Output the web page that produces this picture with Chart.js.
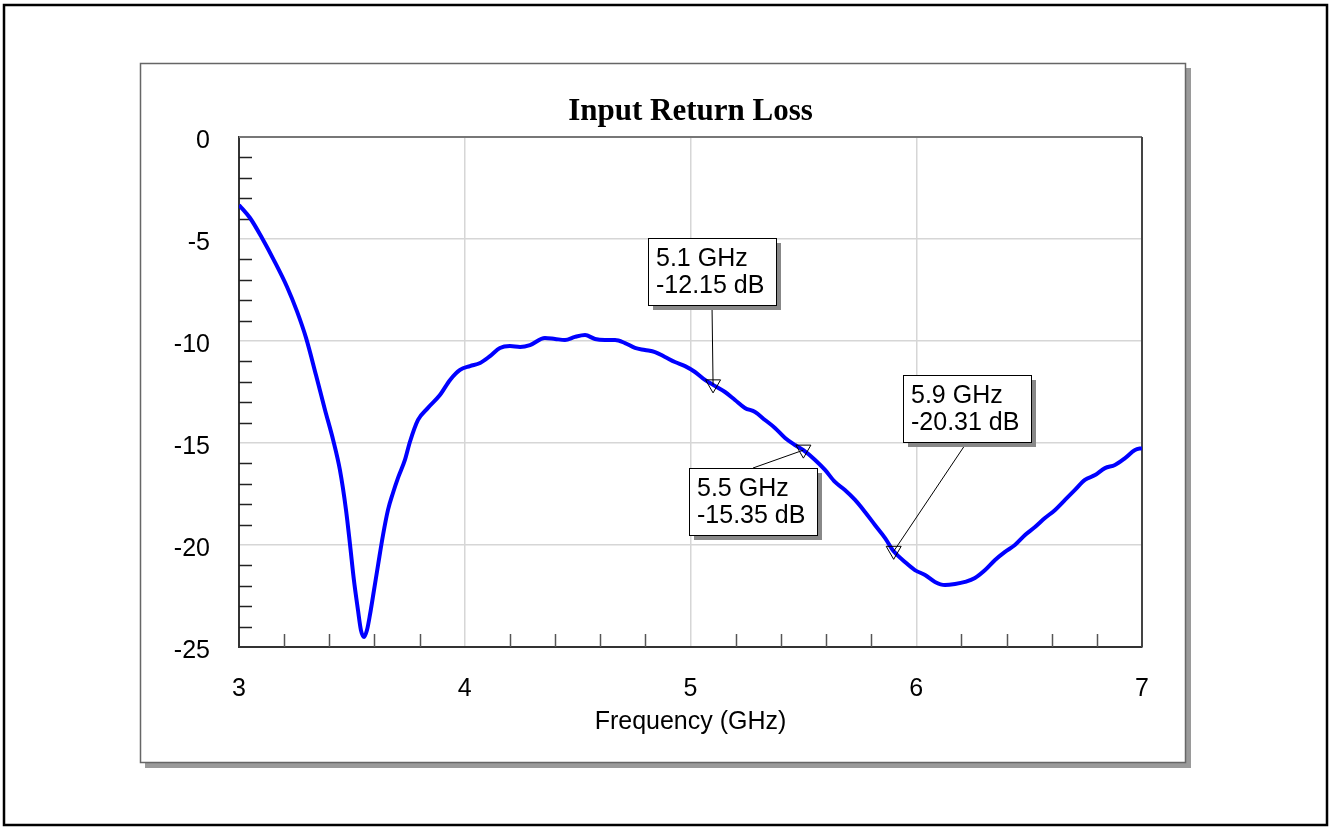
<!DOCTYPE html>
<html>
<head>
<meta charset="utf-8">
<title>Input Return Loss</title>
<script src="https://cdn.jsdelivr.net/npm/chart.js@4/dist/chart.umd.min.js"></script>
<style>
  html, body { margin: 0; padding: 0; background: #fff; }
  canvas { display: block; }
</style>
</head>
<body>
<canvas id="myChart" width="1330" height="828"></canvas>
<script>
// measured S11 sweep (GHz / dB)
const freq = [
  3.000, 3.049, 3.102, 3.159, 3.213, 3.257, 3.297, 3.341, 3.381, 3.417,
  3.447, 3.474, 3.492, 3.509, 3.527, 3.540, 3.554, 3.567, 3.580, 3.598,
  3.616, 3.638, 3.660, 3.682, 3.704, 3.735, 3.757, 3.793, 3.837, 3.890,
  3.935, 3.979, 4.023, 4.068, 4.112, 4.156, 4.200, 4.245, 4.289, 4.355,
  4.400, 4.444, 4.488, 4.533, 4.577, 4.621, 4.666, 4.710, 4.754, 4.798,
  4.843, 4.887, 4.931, 4.976, 5.020, 5.064, 5.100, 5.153, 5.197, 5.241,
  5.286, 5.330, 5.374, 5.419, 5.463, 5.500, 5.552, 5.596, 5.640, 5.684,
  5.729, 5.773, 5.817, 5.862, 5.900, 5.950, 5.994, 6.039, 6.083, 6.127,
  6.172, 6.216, 6.260, 6.305, 6.349, 6.393, 6.437, 6.482, 6.526, 6.570,
  6.615, 6.659, 6.703, 6.747, 6.792, 6.836, 6.880, 6.925, 6.969, 7.000
];
const s11 = [
  -3.33, -3.97, -4.95, -6.13, -7.35, -8.55, -9.85, -11.67, -13.38, -14.85,
  -16.32, -18.28, -20.00, -21.72, -23.19, -24.17, -24.51, -24.17, -23.43, -22.21,
  -20.98, -19.51, -18.28, -17.45, -16.72, -15.83, -14.95, -13.87, -13.28, -12.65,
  -11.91, -11.42, -11.23, -11.08, -10.74, -10.34, -10.25, -10.29, -10.20, -9.85,
  -9.90, -9.95, -9.80, -9.71, -9.90, -9.95, -9.95, -10.10, -10.34, -10.44,
  -10.54, -10.78, -11.03, -11.23, -11.52, -11.91, -12.15, -12.50, -12.89, -13.28,
  -13.48, -13.87, -14.26, -14.75, -15.10, -15.35, -15.83, -16.32, -16.91, -17.30,
  -17.79, -18.38, -19.02, -19.66, -20.31, -20.83, -21.23, -21.47, -21.81, -21.96,
  -21.91, -21.81, -21.62, -21.23, -20.74, -20.34, -20.00, -19.51, -19.12, -18.68,
  -18.28, -17.79, -17.30, -16.81, -16.57, -16.23, -16.08, -15.74, -15.34, -15.25
];

// markers
const markerFreq = [5.1, 5.5, 5.9];
const markerDb = [-12.15, -15.35, -20.31];
const markerLabel = [
  ['5.1 GHz', '-12.15 dB'],
  ['5.5 GHz', '-15.35 dB'],
  ['5.9 GHz', '-20.31 dB']
];
// where each marker box sits relative to its point
const boxOffset = [[-65, -147], [-114, 18], [9, -176]];

const chartTitle = 'Input Return Loss';
const xTitle = 'Frequency (GHz)';

const points = freq.map((f, i) => ({ x: f, y: s11[i] }));

const sans = '"Liberation Sans", Arial, sans-serif';

const frame = {
  id: 'frame',
  beforeDraw(chart) {
    const ctx = chart.ctx;
    ctx.save();
    ctx.fillStyle = '#fff';
    ctx.fillRect(0, 0, chart.width, chart.height);
    // outer border
    ctx.strokeStyle = '#000';
    ctx.lineWidth = 2.5;
    ctx.strokeRect(4, 5, 1323, 820);
    // panel with drop shadow
    ctx.fillStyle = '#9a9a9a';
    ctx.fillRect(145, 68, 1046, 700);
    ctx.fillStyle = '#fff';
    ctx.fillRect(140, 63, 1046, 700);
    ctx.strokeStyle = '#666';
    ctx.lineWidth = 1.5;
    ctx.strokeRect(140.5, 63.5, 1045, 699);
    ctx.restore();
  },
  beforeDatasetsDraw(chart) {
    const { ctx, chartArea: a, scales: { x, y } } = chart;
    ctx.save();
    // minor ticks along the left and bottom axes
    ctx.lineWidth = 1.5;
    ctx.strokeStyle = '#222';
    for (let v = -24; v < 0; v++) {
      if (v % 5 === 0) continue;
      const py = Math.round(y.getPixelForValue(v)) + 0.5;
      ctx.beginPath();
      ctx.moveTo(a.left, py);
      ctx.lineTo(a.left + 13, py);
      ctx.stroke();
    }
    ctx.strokeStyle = '#555';
    for (let k = 1; k < 20; k++) {
      if (k % 5 === 0) continue;
      const px = Math.round(x.getPixelForValue(3 + k * 0.2)) + 0.5;
      ctx.beginPath();
      ctx.moveTo(px, a.bottom);
      ctx.lineTo(px, a.bottom - 13);
      ctx.stroke();
    }
    // top and right edges of the plot
    ctx.lineWidth = 2;
    ctx.strokeStyle = '#777';
    ctx.beginPath();
    ctx.moveTo(a.left, a.top);
    ctx.lineTo(a.right, a.top);
    ctx.stroke();
    ctx.strokeStyle = '#444';
    ctx.beginPath();
    ctx.moveTo(a.right, a.top);
    ctx.lineTo(a.right, a.bottom);
    ctx.stroke();
    ctx.restore();
  },
  afterDraw(chart) {
    const { ctx, chartArea: a, scales: { x, y } } = chart;
    ctx.save();
    ctx.fillStyle = '#000';
    ctx.font = 'bold 31px "Liberation Serif", "Times New Roman", serif';
    ctx.textAlign = 'center';
    ctx.textBaseline = 'middle';
    ctx.fillText(chartTitle, (a.left + a.right) / 2, 112);

    ctx.font = '25px ' + sans;
    ctx.textAlign = 'left';
    markerFreq.forEach((f, i) => {
      const px = x.getPixelForValue(f);
      const py = y.getPixelForValue(markerDb[i]);
      const bx = Math.round(px + boxOffset[i][0]);
      const by = Math.round(py + boxOffset[i][1]);
      const bw = 128, bh = 67;
      // leader from box edge to point
      const ax = bx + bw / 2;
      const ay = by > py ? by : by + bh;
      ctx.strokeStyle = '#000';
      ctx.lineWidth = 1;
      ctx.beginPath();
      ctx.moveTo(ax, ay);
      ctx.lineTo(px, py);
      ctx.stroke();
      // open triangle marker
      ctx.beginPath();
      ctx.moveTo(px - 7.5, py - 5);
      ctx.lineTo(px + 7.5, py - 5);
      ctx.lineTo(px, py + 8);
      ctx.closePath();
      ctx.stroke();
      // box
      ctx.fillStyle = '#888';
      ctx.fillRect(bx + 5, by + 5, bw, bh);
      ctx.fillStyle = '#fff';
      ctx.fillRect(bx, by, bw, bh);
      ctx.strokeRect(bx + 0.5, by + 0.5, bw, bh);
      ctx.fillStyle = '#000';
      ctx.fillText(markerLabel[i][0], bx + 8, by + 21);
      ctx.fillText(markerLabel[i][1], bx + 8, by + 48);
    });
    ctx.restore();
  }
};

const config = {
  type: 'line',
  data: {
    datasets: [{
      label: 'S11',
      data: points,
      borderColor: '#0000ff',
      borderWidth: 4,
      pointRadius: 0,
      tension: 0.4,
      cubicInterpolationMode: 'monotone',
      fill: false
    }]
  },
  options: {
    responsive: false,
    animation: false,
    devicePixelRatio: 1,
    layout: { padding: { left: 0, top: 137, right: 188, bottom: 0 } },
    plugins: {
      legend: { display: false },
      tooltip: { enabled: false }
    },
    scales: {
      x: {
        type: 'linear',
        min: 3,
        max: 7,
        ticks: {
          stepSize: 1,
          padding: 27,
          color: '#000',
          font: { family: sans, size: 25 }
        },
        grid: { color: '#d6d6d6', lineWidth: 1.5, drawTicks: false },
        border: { color: '#333', width: 2 },
        title: {
          display: true,
          text: xTitle,
          color: '#000',
          padding: { top: 0, bottom: 91 },
          font: { family: sans, size: 25 }
        },
        afterFit(scale) { scale.height = 181; }
      },
      y: {
        min: -25,
        max: 0,
        ticks: {
          stepSize: 5,
          padding: 29,
          labelOffset: 4,
          color: '#000',
          font: { family: sans, size: 25 }
        },
        grid: { color: '#d6d6d6', lineWidth: 1.5, drawTicks: false },
        border: { color: '#333', width: 2 },
        afterFit(scale) { scale.width = 239; }
      }
    }
  },
  plugins: [frame]
};

const ctx = document.querySelector('#myChart').getContext('2d');
new Chart(ctx, config);
</script>
</body>
</html>
